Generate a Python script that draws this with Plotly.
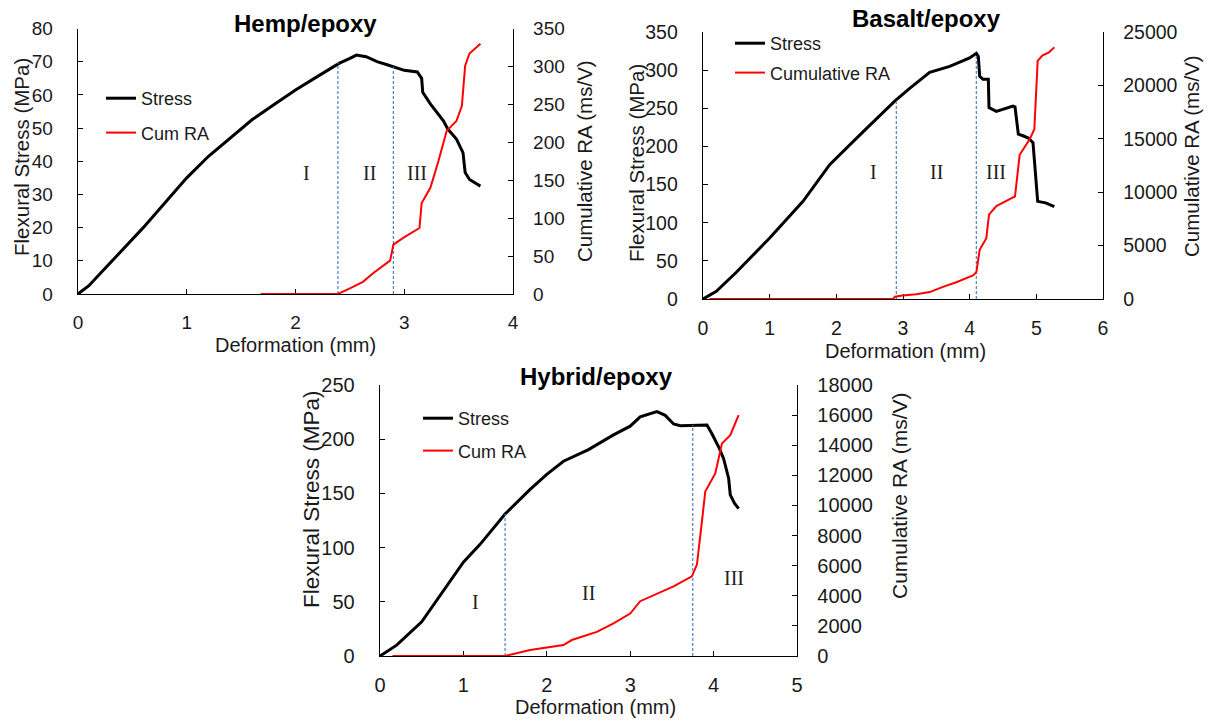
import plotly.graph_objects as go

W, H = 1209, 722
OFF = 0
def px(x): return (x - OFF) / W
def py(y): return 1 - (y - OFF) / H

FONT = "Liberation Sans"
SERIF = "Liberation Serif"

# ---------------- Hemp/epoxy ----------------
hemp_x = [0, 0.1, 0.2, 0.3, 0.4, 0.5, 0.6, 0.8, 1.0, 1.2, 1.4, 1.6, 1.8, 2.0, 2.2, 2.4, 2.5, 2.56, 2.65, 2.75,
          2.85, 2.9, 3.0, 3.12, 3.16, 3.17, 3.24, 3.36, 3.40, 3.48, 3.54, 3.56, 3.60, 3.70]
hemp_stress = [0, 2.5, 6, 9.5, 13, 16.5, 20, 27.5, 35, 41.5, 47, 52.5, 57, 61.5, 65.5, 69.5, 71, 72, 71.5, 70,
               69, 68.5, 67.4, 66.9, 65, 60.8, 57.3, 52.2, 49.7, 46.7, 42.6, 36.6, 34.5, 32.5]
hemp_ra_x = [1.68, 2.39, 2.50, 2.62, 2.71, 2.84, 2.87, 2.90, 2.99, 3.14, 3.16, 3.24, 3.31, 3.39, 3.48, 3.53,
             3.56, 3.60, 3.70]
hemp_ra = [0, 0, 7.5, 16, 27, 40.7, 44, 65, 74, 87, 120, 140, 173, 215, 228, 248, 301, 317, 330]
hemp_bounds = [2.39, 2.9]
hemp_bound_tops = [69.7, 68.4]
hemp_region_x = [2.1, 2.68, 3.12]
hemp_region_y = [36.5, 36.5, 36.5]

# ---------------- Basalt/epoxy ----------------
bas_x = [0, 0.2, 0.5, 1.0, 1.5, 1.9, 2.4, 2.88, 3.1, 3.4, 3.7, 3.9, 4.0, 4.10, 4.13, 4.15, 4.20, 4.28, 4.29,
         4.40, 4.65, 4.68, 4.73, 4.80, 4.88, 4.95, 5.02, 5.14, 5.27]
bas_stress = [0, 10, 35, 80, 128, 176, 219, 259.6, 276, 297, 305, 312, 316, 322, 318, 292, 288, 288, 251,
              246, 253, 252, 216, 214, 211, 205, 128, 126, 121]
bas_ra_x = [0.1, 2.85, 2.88, 2.99, 3.2, 3.40, 3.62, 3.80, 4.05, 4.10, 4.15, 4.20, 4.25, 4.29, 4.40, 4.68,
            4.75, 4.90, 4.97, 5.02, 5.09, 5.19, 5.27]
bas_ra = [0, 0, 220, 330, 450, 650, 1180, 1570, 2200, 2500, 4600, 5200, 5700, 7900, 8700, 9600, 13500,
          14950, 15900, 22300, 22800, 23100, 23560]
bas_bounds = [2.9, 4.1]
bas_bound_tops = [258, 321]
bas_region_x = [2.56, 3.5, 4.4]
bas_region_y = [166, 166, 166]

# ---------------- Hybrid/epoxy ----------------
hyb_x = [0, 0.2, 0.5, 0.8, 1.0, 1.2, 1.5, 1.8, 2.0, 2.2, 2.5, 2.8, 3.0, 3.12, 3.32, 3.42, 3.52, 3.60, 3.92,
         3.98, 4.06, 4.12, 4.18, 4.20, 4.25, 4.30]
hyb_stress = [0, 10, 31.5, 65, 86.5, 103, 131, 153.7, 167.5, 179.7, 190.4, 204, 212, 220.6, 225.5, 222,
              214, 212.5, 213, 205, 193, 182, 164, 148.6, 141, 136]
hyb_ra_x = [0.15, 1.5, 1.8, 2.0, 2.2, 2.3, 2.5, 2.6, 2.8, 3.0, 3.12, 3.32, 3.52, 3.74, 3.80, 3.86, 3.90,
            4.02, 4.10, 4.20, 4.30]
hyb_ra = [0, 0, 400, 550, 730, 1060, 1430, 1600, 2160, 2820, 3640, 4150, 4630, 5290, 6070, 8930, 10920,
          12130, 14120, 14670, 16000]
hyb_bounds = [1.5, 3.75]
hyb_bound_tops = [131, 213]
hyb_region_x = [1.15, 2.5, 4.24]
hyb_region_y = [50, 58, 72]

panels = [
    dict(title="Hemp/epoxy", x=hemp_x, s=hemp_stress, rx=hemp_ra_x, r=hemp_ra, b=hemp_bounds,
         bt=hemp_bound_tops, lx=hemp_region_x, ly=hemp_region_y, ra_name="Cum RA",
         xr=[0, 4], xd=1, yr=[0, 80], yd=10, y2r=[0, 350], y2d=50,
         dom_x=[78, 513], dom_y=[294, 28.5], title_pos=(305, 23),
         ly_t=(21, 157), ry_t=(584, 161), x_t=(295, 345), leg=(101, 80), gap=8,
         tick=19, ytitle=20.5, rtitle=20.5),
    dict(title="Basalt/epoxy", x=bas_x, s=bas_stress, rx=bas_ra_x, r=bas_ra, b=bas_bounds,
         bt=bas_bound_tops, lx=bas_region_x, ly=bas_region_y, ra_name="Cumulative RA",
         xr=[0, 6], xd=1, yr=[0, 350], yd=50, y2r=[0, 25000], y2d=5000,
         dom_x=[703, 1103], dom_y=[299, 32], title_pos=(926, 19),
         ly_t=(637, 163), ry_t=(1192, 156), x_t=(905, 351), leg=(730, 25), gap=3,
         tick=19.5, ytitle=20.5, rtitle=20.5),
    dict(title="Hybrid/epoxy", x=hyb_x, s=hyb_stress, rx=hyb_ra_x, r=hyb_ra, b=hyb_bounds,
         bt=hyb_bound_tops, lx=hyb_region_x, ly=hyb_region_y, ra_name="Cum RA",
         xr=[0, 5], xd=1, yr=[0, 250], yd=50, y2r=[0, 18000], y2d=2000,
         dom_x=[380, 797], dom_y=[656, 385], title_pos=(596, 376),
         ly_t=(312, 499), ry_t=(899, 496), x_t=(595, 707), leg=(418, 400), gap=6,
         tick=20, ytitle=22.5, rtitle=21),
]

fig = go.Figure()
axis_common = dict(showline=True, linecolor="black", linewidth=1.3, ticks="inside", ticklen=5,
                   tickcolor="black", showgrid=False, zeroline=False, layer="below traces",
                   tickformat="d", automargin=False)
annotations = []
layout = {}

for i, p in enumerate(panels):
    n = i + 1
    xa = "x" if n == 1 else f"x{n}"
    ya = f"y{2*n-1}" if n > 1 else "y"
    yb = f"y{2*n}"
    leg = "legend" if n == 1 else f"legend{n}"
    tfont = dict(family=FONT, size=p["tick"], color="#1a1a1a")

    fig.add_trace(go.Scatter(x=p["x"], y=p["s"], mode="lines", name="Stress",
                             line=dict(color="black", width=3), xaxis=xa, yaxis=ya,
                             legend=leg, legendgroup=f"s{n}"))
    fig.add_trace(go.Scatter(x=p["rx"], y=p["r"], mode="lines", name=p["ra_name"],
                             line=dict(color="#ff0000", width=2), xaxis=xa, yaxis=yb,
                             legend=leg, legendgroup=f"r{n}", cliponaxis=False))
    for bx, bt in zip(p["b"], p["bt"]):
        fig.add_trace(go.Scatter(x=[bx, bx], y=[0, bt], mode="lines", showlegend=False,
                                 line=dict(color="#4f81bd", width=1.2, dash="3px,2px"),
                                 xaxis=xa, yaxis=ya, hoverinfo="skip"))
    for lab, lx, lyv in zip(["I", "II", "III"], p["lx"], p["ly"]):
        annotations.append(dict(x=lx, y=lyv, xref=xa, yref=ya, text=lab, showarrow=False,
                                font=dict(family=SERIF, size=20, color="#222")))

    xkey = "xaxis" if n == 1 else f"xaxis{n}"
    ykey = "yaxis" if n == 1 else f"yaxis{2*n-1}"
    y2key = f"yaxis{2*n}"
    layout[xkey] = dict(axis_common, domain=[px(p["dom_x"][0]), px(p["dom_x"][1])], anchor=ya,
                        range=p["xr"], dtick=p["xd"], tick0=0, ticklabelstandoff=11, tickfont=tfont)
    layout[ykey] = dict(axis_common, domain=[py(p["dom_y"][0]), py(p["dom_y"][1])], anchor=xa,
                        range=p["yr"], dtick=p["yd"], tick0=0, ticklabelstandoff=20, tickfont=tfont)
    layout[y2key] = dict(axis_common, overlaying=ya, side="right", anchor=xa,
                         range=p["y2r"], dtick=p["y2d"], tick0=0, ticklabelstandoff=15, tickfont=tfont)
    layout[leg] = dict(x=px(p["leg"][0]), y=py(p["leg"][1]), xanchor="left", yanchor="top",
                       bgcolor="rgba(0,0,0,0)", traceorder="grouped", tracegroupgap=p["gap"],
                       font=dict(family=FONT, size=18, color="#1a1a1a"))

    common_ann = dict(xref="paper", yref="paper", showarrow=False, xanchor="center", yanchor="middle")
    annotations.append(dict(common_ann, x=px(p["title_pos"][0]), y=py(p["title_pos"][1]),
                            text=f"<b>{p['title']}</b>",
                            font=dict(family=FONT, size=24, color="black")))
    annotations.append(dict(common_ann, x=px(p["ly_t"][0]), y=py(p["ly_t"][1]),
                            text="Flexural Stress (MPa)", textangle=-90,
                            font=dict(family=FONT, size=p["ytitle"], color="#1a1a1a")))
    annotations.append(dict(common_ann, x=px(p["ry_t"][0]), y=py(p["ry_t"][1]),
                            text="Cumulative RA (ms/V)", textangle=-90,
                            font=dict(family=FONT, size=p["rtitle"], color="#1a1a1a")))
    annotations.append(dict(common_ann, x=px(p["x_t"][0]), y=py(p["x_t"][1]),
                            text="Deformation (mm)",
                            font=dict(family=FONT, size=20, color="#1a1a1a")))

fig.update_layout(width=W, height=H, margin=dict(l=0, r=0, t=0, b=0, autoexpand=False),
                  paper_bgcolor="white", plot_bgcolor="white", annotations=annotations,
                  hovermode=False, **layout)
fig.write_html("out.html", config={"displayModeBar": False, "staticPlot": True},
               post_script="document.body.style.margin='0';document.body.style.overflow='hidden';")
